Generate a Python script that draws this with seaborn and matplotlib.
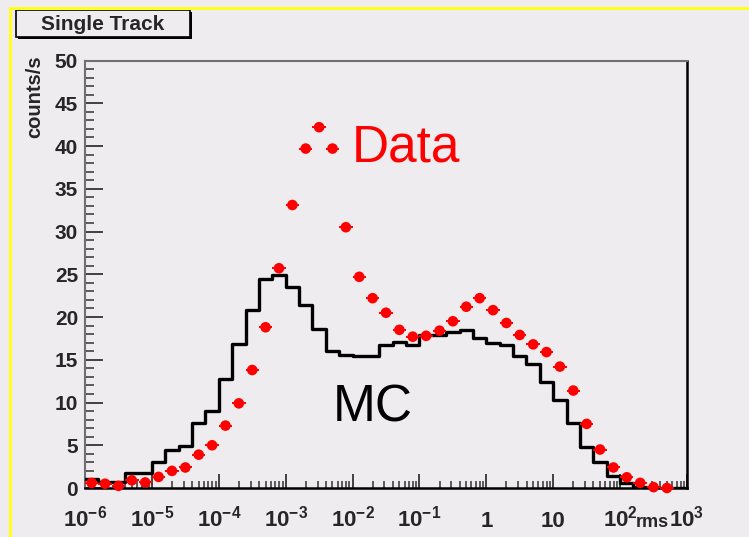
import numpy as np
import pandas as pd
import matplotlib
matplotlib.use("Agg")
import matplotlib.pyplot as plt
import seaborn as sns
from matplotlib.ticker import FixedLocator, MultipleLocator, NullFormatter
from matplotlib.patches import Rectangle
from matplotlib.lines import Line2D

# ---------------- data ----------------
log_lo, log_hi, n_bins = -6, 3, 45
data_counts = [0.6, 0.5, 0.25, 0.9, 0.65, 1.3, 2.0, 2.4, 3.9, 5.0,
               7.3, 9.9, 13.8, 18.8, 25.7, 33.1, 39.7, 42.2, 39.7, 30.5,
               24.7, 22.2, 20.5, 18.5, 17.7, 17.8, 18.4, 19.5, 21.2, 22.2,
               20.8, 19.3, 17.9, 16.8, 15.9, 14.2, 11.4, 7.5, 4.5, 2.4,
               1.25, 0.6, 0.1, 0.0]
mc_counts = [1.0, 0.7, 0.7, 1.8, 1.8, 3.0, 4.4, 4.95, 7.6, 9.05,
             12.8, 16.9, 20.8, 24.4, 24.9, 23.5, 21.4, 18.6, 16.0, 15.6,
             15.4, 15.4, 16.7, 17.1, 16.7, 17.9, 17.9, 18.3, 18.5, 17.5,
             17.0, 16.75, 15.45, 14.5, 12.45, 10.3, 7.6, 4.75, 3.0, 1.4,
             0.6, 0.1, 0.0, 0.0, 0.0]
x_tick_exps = [-6, -5, -4, -3, -2, -1, 0, 1, 2, 3]
y_ticks = [0, 5, 10, 15, 20, 25, 30, 35, 40, 45, 50]

edges = 10 ** np.linspace(log_lo, log_hi, n_bins + 1)
centers = np.sqrt(edges[:-1] * edges[1:])

# ---------------- style ----------------
W, H = 749, 537
bg = "#efecef"
sns.set_style("ticks")
plt.rcParams["font.family"] = ["Liberation Sans", "DejaVu Sans"]
plt.rcParams["mathtext.fontset"] = "custom"
plt.rcParams["mathtext.rm"] = "Liberation Sans:bold"
plt.rcParams["mathtext.bf"] = "Liberation Sans:bold"
plt.rcParams["mathtext.default"] = "bf"

fig = plt.figure(figsize=(W / 100, H / 100), dpi=100, facecolor=bg)
ax = fig.add_axes([85 / W, 1 - 488 / H, (687 - 85) / W, (488 - 60.5) / H])
ax.set_facecolor(bg)

# MC step histogram
mc_df = pd.DataFrame({"x": edges, "y": list(mc_counts) + [mc_counts[-1]]})
sns.lineplot(data=mc_df, x="x", y="y", drawstyle="steps-post", color="black",
             lw=2.4, estimator=None, ax=ax, zorder=3)

# Data points with horizontal bin errors
n_d = len(data_counts)
xc = centers[:n_d]
xerr = np.vstack([xc - edges[:n_d], edges[1:n_d + 1] - xc])
ax.errorbar(xc, data_counts, xerr=xerr, fmt="none", ecolor="red", elinewidth=1.4,
            zorder=4, clip_on=False)
sns.scatterplot(x=xc, y=data_counts, color="red", s=58, edgecolor="none",
                ax=ax, zorder=5, clip_on=False)

ax.set_xscale("log")
ax.set_xlim(10.0 ** log_lo, 10.0 ** log_hi)
ax.set_ylim(0, 50)
ax.set_xlabel("")
ax.set_ylabel("")

# ticks
def xlab(e):
    if e == 0:
        return "1"
    if e == 1:
        return "10"
    return r"$10^{%d}$" % e

ax.set_xticks([10.0 ** e for e in x_tick_exps],
              [xlab(e) for e in x_tick_exps], va="baseline")
ax.xaxis.set_minor_locator(FixedLocator(
    [m * 10.0 ** e for e in range(log_lo, log_hi) for m in range(2, 10)]))
ax.xaxis.set_minor_formatter(NullFormatter())
ax.set_yticks(y_ticks)
ax.yaxis.set_minor_locator(MultipleLocator(1))

ax.tick_params(axis="both", which="both", direction="in", top=False, right=False,
               color="#333333")
ax.tick_params(axis="y", which="major", length=13, width=1.3, pad=5, labelsize=15)
ax.tick_params(axis="y", which="minor", length=6.5, width=1.1)
ax.tick_params(axis="x", which="major", length=10, width=1.3, pad=28, labelsize=16)
ax.tick_params(axis="x", which="minor", length=5, width=1.1)
for lbl in ax.get_xticklabels() + ax.get_yticklabels():
    lbl.set_fontweight("bold")

for side in ["top", "left"]:
    ax.spines[side].set_color("#707070")
    ax.spines[side].set_linewidth(1.5)
for side in ["right", "bottom"]:
    ax.spines[side].set_color("black")
    ax.spines[side].set_linewidth(1.8)

# annotations
fig.text(352 / W, 1 - 162 / H, "Data", color="red", fontsize=37,
         ha="left", va="baseline")
fig.text(333 / W, 1 - 422 / H, "MC", color="black", fontsize=37,
         ha="left", va="baseline")
fig.text(35 / W, 1 - 55 / H, "counts/s", rotation=90, fontsize=14.5,
         fontweight="bold", ha="center", va="top")
fig.text(636 / W, 1 - 527 / H, "rms", fontsize=13, fontweight="bold",
         ha="left", va="baseline")

# title box
fig.add_artist(Rectangle((18 / W, 1 - 39 / H), 174 / W, 27 / H,
                         transform=fig.transFigure, facecolor="black",
                         edgecolor="black", lw=0))
fig.add_artist(Rectangle((16 / W, 1 - 37 / H), 174 / W, 27 / H,
                         transform=fig.transFigure, facecolor=bg,
                         edgecolor="black", lw=1.2))
fig.text(103 / W, 1 - 24 / H, "Single Track", fontsize=15, fontweight="bold",
         ha="center", va="center")

# yellow frame
fig.add_artist(Line2D([10 / W, 1], [1 - 8 / H, 1 - 8 / H],
                      transform=fig.transFigure, color="#ffff22", lw=2.2))
fig.add_artist(Line2D([10 / W, 10 / W], [1 - 8 / H, 0],
                      transform=fig.transFigure, color="#ffff22", lw=2.2))

fig.savefig("out.png", dpi=100, facecolor=bg)
